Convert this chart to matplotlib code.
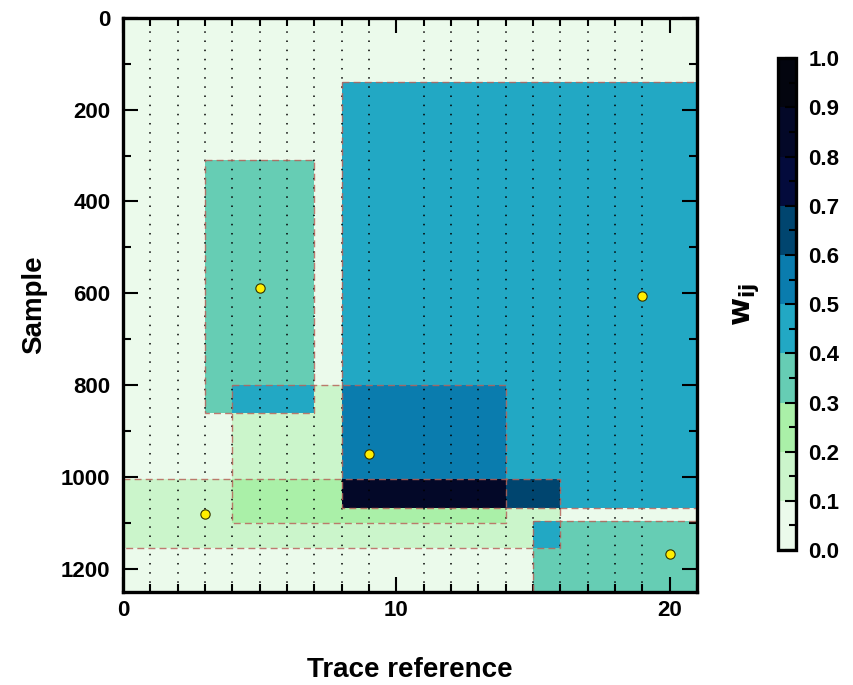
import numpy as np
import matplotlib
matplotlib.use("Agg")
import matplotlib.pyplot as plt
from matplotlib.colors import ListedColormap, BoundaryNorm
from matplotlib.patches import Rectangle
from matplotlib.ticker import MultipleLocator

plt.rcParams['font.family'] = ['Liberation Sans', 'DejaVu Sans']
plt.rcParams['font.weight'] = 'bold'

# weight regions, painted in order (later ones cover earlier ones)
reg_x0 = [0, 8, 3, 4, 4, 8, 0, 4, 8, 8, 15, 15]
reg_x1 = [21, 21, 7, 14, 7, 14, 16, 14, 16, 14, 21, 16]
reg_y0 = [0, 140, 310, 800, 800, 800, 1005, 1005, 1005, 1005, 1095, 1095]
reg_y1 = [1250, 1068, 860, 1100, 860, 1068, 1155, 1100, 1068, 1068, 1250, 1155]
reg_w = [0.05, 0.45, 0.35, 0.15, 0.45, 0.55, 0.15, 0.25, 0.65, 0.85, 0.35, 0.45]

# source windows (dashed outlines)
box_x0 = [8, 3, 4, 0, 15]
box_x1 = [21, 7, 14, 16, 21]
box_y0 = [140, 310, 800, 1005, 1095]
box_y1 = [1068, 860, 1100, 1155, 1250]

# centres
pt_x = [5, 9, 19, 3, 20]
pt_y = [588, 950, 605, 1080, 1168]

level_colors = ['#ebfaeb', '#cbf5cb', '#aaf0a8', '#66cdb4', '#22a8c4',
                '#0a7cae', '#00456f', '#030b3c', '#030828', '#03050f']
levels = np.linspace(0, 1, 11)
cmap = ListedColormap(level_colors)
norm = BoundaryNorm(levels, cmap.N)

fig = plt.figure(figsize=(8.54, 6.85), dpi=100)
ax = fig.add_axes([0.144, 0.136, 0.672, 0.838])

for x0, x1, y0, y1, w in zip(reg_x0, reg_x1, reg_y0, reg_y1, reg_w):
    ax.add_patch(Rectangle((x0, y0), x1 - x0, y1 - y0, facecolor=cmap(norm(w)),
                           edgecolor='none', zorder=1))

for x0, x1, y0, y1 in zip(box_x0, box_x1, box_y0, box_y1):
    ax.add_patch(Rectangle((x0, y0), x1 - x0, y1 - y0, facecolor='none',
                           edgecolor='#b8645a', alpha=0.85, lw=1.0,
                           linestyle=(0, (5, 3)), zorder=3))

ax.scatter(pt_x, pt_y, s=45, c='#ffee00', edgecolors='#333300', linewidths=0.8, zorder=5)

ax.set_xlim(0, 21)
ax.set_ylim(1250, 0)
ax.xaxis.set_major_locator(MultipleLocator(10))
ax.xaxis.set_minor_locator(MultipleLocator(1))
ax.yaxis.set_major_locator(MultipleLocator(200))
ax.yaxis.set_minor_locator(MultipleLocator(100))
ax.grid(True, which='minor', axis='x', color='black', linestyle=(0, (1, 5)), lw=1.1, zorder=2)
ax.set_axisbelow(False)

ax.tick_params(which='both', direction='in', top=True, right=True, width=1.5, labelsize=16)
ax.tick_params(which='major', length=11)
ax.tick_params(which='minor', length=6)
ax.tick_params(axis='x', pad=6)
ax.tick_params(axis='y', pad=9)
for sp in ax.spines.values():
    sp.set_linewidth(2.4)
    sp.set_zorder(6)

ax.set_xlabel('Trace reference', fontsize=20, fontweight='bold', labelpad=26)
ax.set_ylabel('Sample', fontsize=20, fontweight='bold', labelpad=10)

cax = fig.add_axes([0.911, 0.197, 0.021, 0.718])
sm = matplotlib.cm.ScalarMappable(cmap=cmap, norm=norm)
cb = fig.colorbar(sm, cax=cax, ticks=levels)
cb.ax.yaxis.set_minor_locator(MultipleLocator(0.05))
cb.ax.set_yticklabels([f'{v:.1f}' for v in levels])
cb.ax.tick_params(which='both', direction='in', labelsize=16, width=1.5, pad=9)
cb.ax.tick_params(which='major', length=8)
cb.ax.tick_params(which='minor', length=5)
cb.outline.set_linewidth(2.4)
cb.ax.yaxis.set_label_position('left')
cb.set_label(r'$\mathbf{w_{ij}}$', fontsize=22, labelpad=12)

fig.savefig('out.png', dpi=100)
